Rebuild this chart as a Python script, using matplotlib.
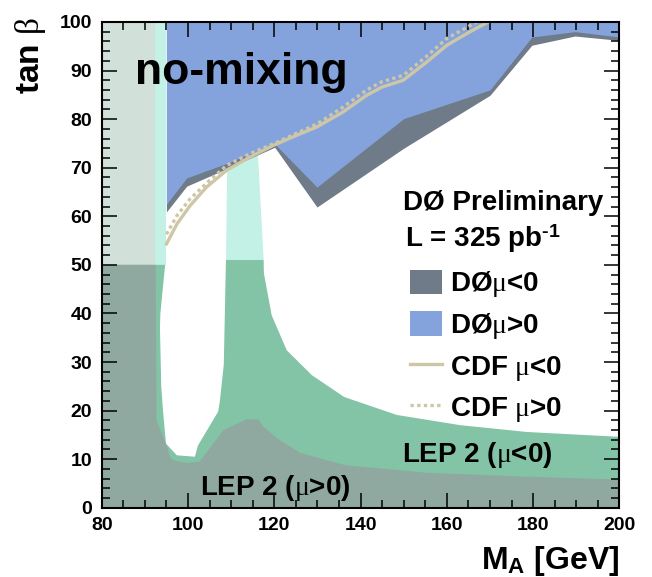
import matplotlib.pyplot as plt
from matplotlib.patches import Patch
from matplotlib.lines import Line2D
from matplotlib.ticker import MultipleLocator

plt.rcParams['font.family'] = ['Liberation Sans', 'DejaVu Sans']
plt.rcParams['font.weight'] = 'bold'
plt.rcParams['axes.labelweight'] = 'bold'
plt.rcParams['mathtext.fontset'] = 'custom'
plt.rcParams['mathtext.rm'] = 'Liberation Sans:weight=bold'
plt.rcParams['mathtext.it'] = 'Liberation Serif:weight=normal:style=normal'
plt.rcParams['mathtext.bf'] = 'Liberation Sans:weight=bold'

# LEP 2 (mu<0) excluded region, outline
lep_neg_x = [80, 80, 94.7, 93.6, 93.5, 93.8, 94.2, 94.9, 97.4, 101.6, 102.3,
             107.0, 107.4, 108.3, 108.8, 117.5, 117.6, 119.4, 122.9, 128.7,
             136.2, 148.4, 163.1, 178.5, 200, 200]
lep_neg_y = [0, 50, 50, 40, 37, 25, 20, 13.2, 10.8, 10.5, 12.8,
             19.8, 22, 29.5, 51, 51, 48.2, 39.6, 32.4, 27.3,
             22.8, 19.1, 17.0, 15.6, 14.6, 0]

# LEP 2 (mu>0) excluded region, outline
lep_pos_x = [80, 80, 92.5, 92.7, 94.9, 95.8, 96.5, 99.7, 102.7, 108.2, 113.6,
             116.3, 117.3, 120.6, 126.0, 132.9, 136.8, 144.5, 155.4, 178.5,
             200, 200]
lep_pos_y = [0, 50, 50, 18.0, 13.2, 10.5, 9.8, 9.2, 9.5, 16.0, 18.2,
             18.2, 16.9, 14.3, 11.3, 9.6, 8.7, 8.1, 7.2, 6.4,
             5.8, 0]

# theoretically inaccessible bands
band_left_x = [92.4, 92.4, 95.0, 95.0]
band_left_y = [50, 100, 100, 50]
band_mid_x = [108.8, 109.1, 116.2, 117.6]
band_mid_y = [50, 71, 73, 50]
grey_x = [80, 80, 92.4, 92.4]
grey_y = [50, 100, 100, 50]

# D0 exclusion, lower edges (excluded up to tan beta = 100)
d0_neg_x = [95, 99.7, 109, 120.1, 129.9, 150, 170, 179.7, 189.7, 200]
d0_neg_lo = [60.9, 66.2, 69.8, 74.2, 61.9, 74.0, 84.9, 95.2, 97.1, 96.2]
d0_pos_x = [95, 99.7, 109, 120.1, 129.9, 150, 170, 179.7, 189.7, 200]
d0_pos_lo = [62.5, 67.9, 70.9, 74.9, 66.0, 80.1, 86.0, 96.9, 98.0, 96.9]

# CDF limits
cdf_neg_x = [95, 97.5, 100.5, 104.3, 109, 114.4, 119.8, 125, 129.9, 136,
             141.4, 145, 149.9, 155.4, 160, 165, 169.6]
cdf_neg_y = [54.3, 58.5, 62.2, 66.0, 69.5, 72.2, 74.6, 76.6, 78.4, 81.5,
             84.9, 86.6, 88.0, 91.8, 95.2, 97.8, 100.0]
cdf_pos_x = [95, 97.5, 100.5, 104.3, 109, 114.4, 120, 125, 129.9, 136,
             141.4, 145, 149.9, 155.4, 160, 166.9]
cdf_pos_y = [56.3, 60.2, 63.6, 66.8, 70.5, 72.9, 75.0, 77.0, 79.0, 82.5,
             86.0, 87.7, 89.0, 93.0, 96.6, 100.0]

slate = '#6f7b88'
blue = '#84a3dd'
green = '#83c3a6'
greyg = '#8fa9a0'
cyan = '#c3f1e5'
light = '#d1e0d8'
beige = '#cec7a7'

fig = plt.figure(figsize=(6.52, 5.77), dpi=100)
ax = fig.add_axes([0.156, 0.120, 0.794, 0.842])

ax.fill(band_left_x, band_left_y, color=cyan, lw=0)
ax.fill(band_mid_x, band_mid_y, color=cyan, lw=0)
ax.fill(grey_x, grey_y, color=light, lw=0)
ax.fill(lep_neg_x, lep_neg_y, color=green, lw=0)
ax.fill(lep_pos_x, lep_pos_y, color=greyg, lw=0)
ax.fill_between(d0_neg_x, d0_neg_lo, 100, color=slate, lw=0)
ax.fill_between(d0_pos_x, d0_pos_lo, 100, color=blue, lw=0)
ax.plot(cdf_neg_x, cdf_neg_y, color=beige, lw=2.4, solid_joinstyle='round')
ax.plot(cdf_pos_x, cdf_pos_y, color=beige, lw=2.4, ls=(0, (1, 1)))

ax.set_xlim(80, 200)
ax.set_ylim(0, 100)
ax.xaxis.set_major_locator(MultipleLocator(20))
ax.xaxis.set_minor_locator(MultipleLocator(5))
ax.yaxis.set_major_locator(MultipleLocator(10))
ax.yaxis.set_minor_locator(MultipleLocator(2))
ax.tick_params(which='both', direction='in', top=True, right=True,
               width=1.1, labelsize=14, pad=7)
ax.tick_params(which='major', length=10.8)
ax.tick_params(which='minor', length=5.8)
for s in ax.spines.values():
    s.set_linewidth(1.5)

ax.set_xlabel(r'$\mathbf{M}_{\mathbf{A}}$ [GeV]', fontsize=23, loc='right')
ax.xaxis.set_label_coords(1.0, -0.075)
ax.set_ylabel(r'tan $\beta$', fontsize=24, loc='top')
ax.yaxis.set_label_coords(-0.103, 1.01)

ax.text(87.7, 87.3, 'no-mixing', fontsize=32, va='baseline')
ax.text(149.9, 61.3, 'DØ Preliminary', fontsize=20, va='baseline')
ax.text(150.3, 53.7, r'L = 325 pb$^{\text{-}1}$', fontsize=20, va='baseline')
ax.text(102.8, 2.6, r'LEP 2 ($\mu$>0)', fontsize=20, va='baseline')
ax.text(149.6, 9.5, r'LEP 2 ($\mu$<0)', fontsize=20, va='baseline')

handles = [Patch(facecolor=slate, edgecolor='none'),
           Patch(facecolor=blue, edgecolor='none'),
           Line2D([], [], color=beige, lw=2.4),
           Line2D([], [], color=beige, lw=2.4, ls=(0, (1, 1)))]
labels = [r'DØ$\mu$<0', r'DØ$\mu$>0', r'CDF $\mu$<0', r'CDF $\mu$>0']
ax.legend(handles, labels, loc='upper left', bbox_to_anchor=(151.5, 49.05),
          bbox_transform=ax.transData, frameon=False, fontsize=20,
          handlelength=1.15, handleheight=1.0, handletextpad=0.3,
          labelspacing=0.42, borderpad=0, borderaxespad=0)

fig.savefig('out.png', dpi=100)
